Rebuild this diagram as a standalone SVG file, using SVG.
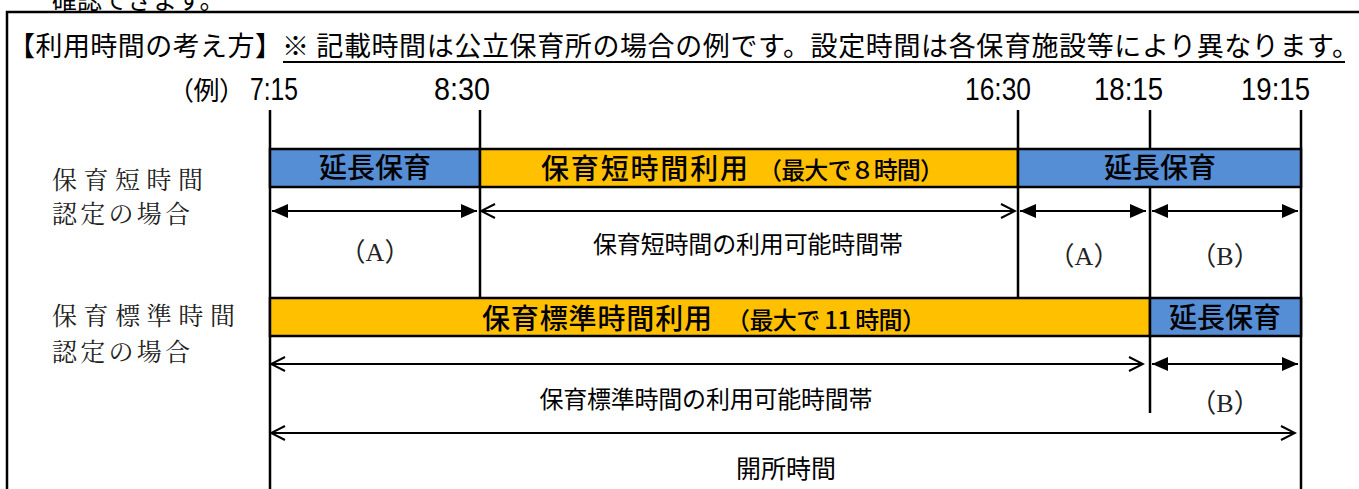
<svg xmlns="http://www.w3.org/2000/svg" width="1359" height="489" viewBox="0 0 1359 489">
<style>
.jp{font-family:"Noto Sans CJK JP","Noto Sans CJK SC",sans-serif;fill:#000}
.mn{font-family:"Noto Serif CJK JP","Noto Sans CJK JP",serif;fill:#222}
.ab{font-family:"Liberation Serif","Noto Sans CJK JP",serif;font-size:26px;fill:#222}
.num{font-family:"Liberation Sans",sans-serif;font-size:31px;fill:#000}
.bar{stroke:#000;stroke-width:2.5}
.blue{fill:#558ed5}
.orange{fill:#ffc000}
.tick{stroke:#000;stroke-width:2.5;fill:none}
.af{stroke:#000;stroke-width:2;marker-start:url(#fs);marker-end:url(#fe)}
.ao{stroke:#000;stroke-width:2;marker-start:url(#os);marker-end:url(#oe)}
.bt{font-weight:500;font-size:28px}
.bs{font-weight:500;font-size:24px}
</style>
<defs>
<marker id="fe" markerUnits="userSpaceOnUse" viewBox="0 0 16 14" refX="16" refY="7" markerWidth="16" markerHeight="14" orient="auto"><path d="M0,0 L16,7 L0,14 z" fill="#000"/></marker>
<marker id="fs" markerUnits="userSpaceOnUse" viewBox="0 0 16 14" refX="0" refY="7" markerWidth="16" markerHeight="14" orient="auto"><path d="M16,0 L0,7 L16,14 z" fill="#000"/></marker>
<marker id="oe" markerUnits="userSpaceOnUse" viewBox="-2 -2 18 18" refX="14" refY="7" markerWidth="18" markerHeight="18" orient="auto"><path d="M0,0 L14,7 L0,14" fill="none" stroke="#000" stroke-width="2"/></marker>
<marker id="os" markerUnits="userSpaceOnUse" viewBox="-2 -2 18 18" refX="0" refY="7" markerWidth="18" markerHeight="18" orient="auto"><path d="M14,0 L0,7 L14,14" fill="none" stroke="#000" stroke-width="2"/></marker>
</defs>
<rect width="1359" height="489" fill="#fff"/>

<text class="jp" x="52" y="9" font-size="25">確認できます。</text>
<path d="M1370,12 H7 V500" fill="none" stroke="#000" stroke-width="2.5"/>

<g id="title">
<text class="jp" x="8" y="56" font-size="27" textLength="274" lengthAdjust="spacing">【利用時間の考え方】</text>
<text class="jp" x="282" y="56" font-size="27" textLength="1077" lengthAdjust="spacing">※ 記載時間は公立保育所の場合の例です。設定時間は各保育施設等により異なります。</text>
<line x1="283" y1="62" x2="1345" y2="62" stroke="#000" stroke-width="2"/>
</g>

<g id="times">
<text class="jp" x="168" y="100" font-size="26" textLength="77" lengthAdjust="spacing">（例）</text>
<text class="num" x="250" y="100" textLength="48" lengthAdjust="spacingAndGlyphs">7:15</text>
<text class="num" x="434" y="100" textLength="56" lengthAdjust="spacingAndGlyphs">8:30</text>
<text class="num" x="965" y="100" textLength="66" lengthAdjust="spacingAndGlyphs">16:30</text>
<text class="num" x="1094" y="100" textLength="69" lengthAdjust="spacingAndGlyphs">18:15</text>
<text class="num" x="1241" y="100" textLength="69" lengthAdjust="spacingAndGlyphs">19:15</text>
</g>

<g id="ticks">
<path class="tick" d="M270,110 V489 M480,110 V298 M1018,110 V298 M1150,110 V413 M1301,110 V489"/>
</g>

<g id="row-labels">
<text class="mn" x="52" y="189" font-size="25" textLength="151" lengthAdjust="spacing">保育短時間</text>
<text class="mn" x="52" y="223" font-size="25" textLength="138" lengthAdjust="spacing">認定の場合</text>
<text class="mn" x="52" y="325" font-size="25" textLength="183" lengthAdjust="spacing">保育標準時間</text>
<text class="mn" x="52" y="361" font-size="25" textLength="138" lengthAdjust="spacing">認定の場合</text>
</g>

<g id="short-ext1">
<rect class="bar blue" x="270" y="149" width="210" height="38"/>
<text class="jp bt" x="375" y="178" text-anchor="middle">延長保育</text>
</g>
<g id="short-use">
<rect class="bar orange" x="480" y="149" width="538" height="38"/>
<text class="jp" x="541" y="179"><tspan class="bt" textLength="207" lengthAdjust="spacing">保育短時間利用</tspan><tspan class="bs" x="758" textLength="186" lengthAdjust="spacing">（最大で８時間）</tspan></text>
</g>
<g id="short-ext2">
<rect class="bar blue" x="1018" y="149" width="283" height="38"/>
<text class="jp bt" x="1160" y="178" text-anchor="middle">延長保育</text>
</g>

<g id="std-use">
<rect class="bar orange" x="270" y="298" width="880" height="38"/>
<text class="jp" x="482" y="329"><tspan class="bt" textLength="230" lengthAdjust="spacing">保育標準時間利用</tspan><tspan class="bs" x="726" textLength="200" lengthAdjust="spacing">（最大で 11 時間）</tspan></text>
</g>
<g id="std-ext">
<rect class="bar blue" x="1150" y="298" width="151" height="38"/>
<text class="jp bt" x="1225" y="328" text-anchor="middle">延長保育</text>
</g>

<g id="connectors">
<line class="af" x1="272" y1="211" x2="477" y2="211"/>
<line class="ao" x1="481" y1="211" x2="1015" y2="211"/>
<line class="af" x1="1020" y1="211" x2="1146" y2="211"/>
<line class="af" x1="1152" y1="211" x2="1298" y2="211"/>
<line class="ao" x1="271" y1="364" x2="1143" y2="364"/>
<line class="af" x1="1152" y1="364" x2="1298" y2="364"/>
<line class="ao" x1="271" y1="433" x2="1295" y2="433"/>
</g>

<g id="span-labels">
<text class="ab" x="375" y="261" text-anchor="middle">（A）</text>
<text class="jp" x="748" y="253" font-size="24" text-anchor="middle" textLength="310" lengthAdjust="spacing">保育短時間の利用可能時間帯</text>
<text class="ab" x="1084" y="265" text-anchor="middle">（A）</text>
<text class="ab" x="1225" y="265" text-anchor="middle">（B）</text>
<text class="jp" x="706" y="408" font-size="24" text-anchor="middle" textLength="333" lengthAdjust="spacing">保育標準時間の利用可能時間帯</text>
<text class="ab" x="1225" y="412" text-anchor="middle">（B）</text>
<text class="jp" x="786" y="478" font-size="25" text-anchor="middle">開所時間</text>
</g>
</svg>
